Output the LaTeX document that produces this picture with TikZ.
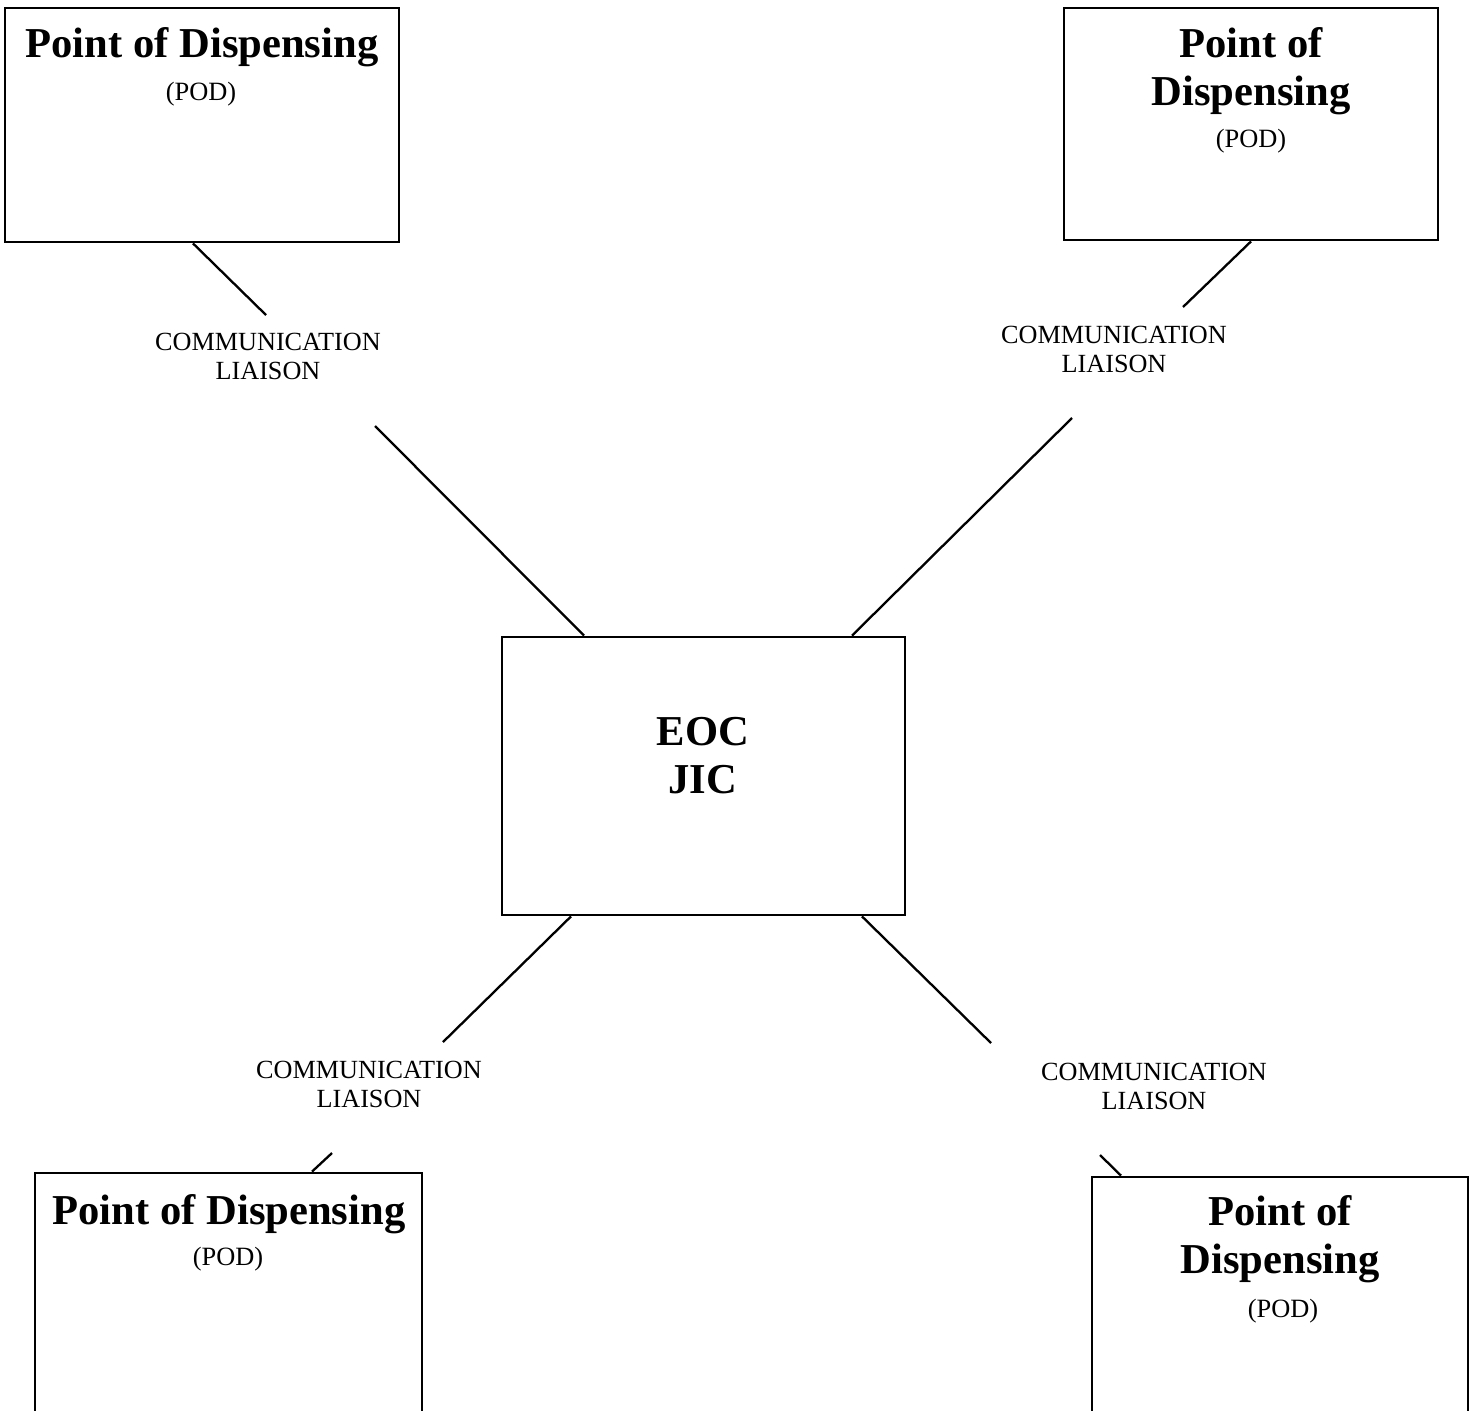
\documentclass[tikz,border=0pt]{standalone}
\usepackage{fontspec}
\setmainfont{Liberation Serif}
\begin{document}
\begin{tikzpicture}[x=0.5pt,y=-0.5pt,
  box/.style={draw=black,line width=1.4pt,fill=white,rectangle,inner sep=0pt},
  title/.style={anchor=base,inner sep=0pt,font=\fontsize{21.3}{24}\selectfont\bfseries},
  abbr/.style={anchor=base,inner sep=0pt,font=\fontsize{13.2}{15}\selectfont},
  liaison/.style={anchor=base,inner sep=0pt,font=\fontsize{13.1}{15}\selectfont},
  link/.style={draw=black,line width=1.15pt}]
\useasboundingbox (0,0) rectangle (1475,1410);

% boxes
\node[box,minimum width=394*0.5pt,minimum height=234*0.5pt] (tl) at (202,125) {};
\node[box,minimum width=374*0.5pt,minimum height=232*0.5pt] (tr) at (1251,124) {};
\node[box,minimum width=403*0.5pt,minimum height=278*0.5pt] (eoc) at (703.5,776) {};
\node[box,minimum width=387*0.5pt,minimum height=267*0.5pt] (bl) at (228.5,1306.5) {};
\node[box,minimum width=376*0.5pt,minimum height=263*0.5pt] (br) at (1280,1308.5) {};

% box texts
\node[title] (tlt) at (202,57) {Point of Dispensing};
\node[abbr] (tla) at (201,100) {(POD)};
\node[title] (trt1) at (1251,57) {Point of};
\node[title] (trt2) at (1251,105) {Dispensing};
\node[abbr] (tra) at (1251,147) {(POD)};
\node[title] (eoc1) at (703,745) {EOC};
\node[title] (eoc2) at (703,793) {JIC};
\node[title] (blt) at (229,1224) {Point of Dispensing};
\node[abbr] (bla) at (228,1265) {(POD)};
\node[title] (brt1) at (1280,1225) {Point of};
\node[title] (brt2) at (1280,1273) {Dispensing};
\node[abbr] (bra) at (1283,1317) {(POD)};

% liaison labels
\node[liaison] (l1a) at (268,350) {COMMUNICATION};
\node[liaison] (l1b) at (268,379) {LIAISON};
\node[liaison] (l2a) at (1114,343) {COMMUNICATION};
\node[liaison] (l2b) at (1114,372) {LIAISON};
\node[liaison] (l3a) at (369,1078) {COMMUNICATION};
\node[liaison] (l3b) at (369,1107) {LIAISON};
\node[liaison] (l4a) at (1154,1080) {COMMUNICATION};
\node[liaison] (l4b) at (1154,1109) {LIAISON};

% free ends of the connector pieces beside the labels
\coordinate (c1a) at (266,315);
\coordinate (c1b) at (375,426);
\coordinate (c2a) at (1183,307);
\coordinate (c2b) at (1072,418);
\coordinate (c3a) at (443,1042);
\coordinate (c3b) at (332,1153);
\coordinate (c4a) at (991,1043);
\coordinate (c4b) at (1100,1155);

% connectors
\draw[link] (tl.south -| 193,0) -- (c1a);
\draw[link] (c1b) -- (eoc.north -| 584,0);
\draw[link] (tr.south -| 1251,0) -- (c2a);
\draw[link] (c2b) -- (eoc.north -| 852,0);
\draw[link] (eoc.south -| 571,0) -- (c3a);
\draw[link] (c3b) -- (bl.north -| 312,0);
\draw[link] (eoc.south -| 862,0) -- (c4a);
\draw[link] (c4b) -- (br.north -| 1121,0);
\end{tikzpicture}
\end{document}
